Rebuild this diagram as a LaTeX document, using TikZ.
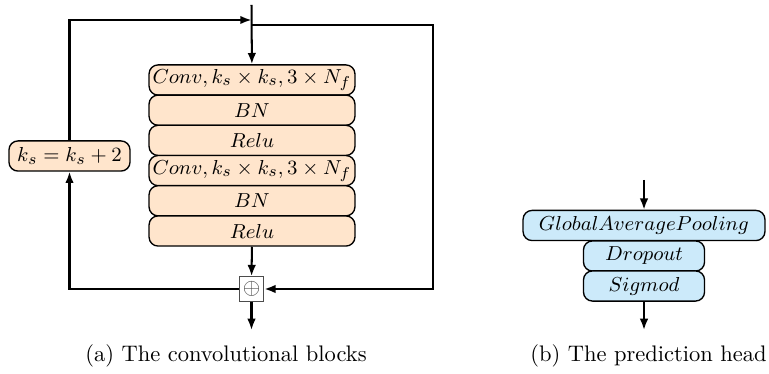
\documentclass[tikz,border=0pt]{standalone}
\usepackage{xcolor}
\usepackage{amsmath}
\usepackage{amssymb}
\usepackage{tikz}
\usetikzlibrary{calc}
\usetikzlibrary{arrows}
\usetikzlibrary{arrows.meta}
\usetikzlibrary{shapes}
\usetikzlibrary{positioning}

\definecolor{blockorange}{RGB}{255,229,204}
\definecolor{headblue}{RGB}{204,234,250}

\begin{document}
\begin{tikzpicture}[x=0.4444pt, y=-0.4444pt,
  layerbox/.style={rectangle, rounded corners=4pt, draw=black, semithick, fill=blockorange, inner xsep=0pt, inner ysep=0.5pt, minimum height=13.4pt, font=\fontsize{9.4}{11}\selectfont},
  headbox/.style={rectangle, rounded corners=4pt, draw=black, semithick, fill=headblue, inner xsep=0pt, inner ysep=0.5pt, minimum height=13.4pt, font=\fontsize{9.4}{11}\selectfont},
  flow/.style={-{Latex[length=5pt,width=3.8pt]}, line width=0.9pt, draw=black}]
\useasboundingbox (0,0) rectangle (769,374);
% convolutional blocks
\node [layerbox, minimum width=91.5pt] (C1) at (252,80) {$Conv, k_s \times k_s, 3 \times N_f$};
\node [layerbox, minimum width=91.5pt] (B1) at (252,110.2) {$BN$};
\node [layerbox, minimum width=91.5pt] (R1) at (252,140.4) {$Relu$};
\node [layerbox, minimum width=91.5pt] (C2) at (252,170.6) {$Conv, k_s \times k_s, 3 \times N_f$};
\node [layerbox, minimum width=91.5pt] (B2) at (252,200.8) {$BN$};
\node [layerbox, minimum width=91.5pt] (R2) at (252,231) {$Relu$};
\node [layerbox, minimum width=53.8pt] (KS) at (69.5,156) {$k_s = k_s + 2$};
\node [rectangle, draw=black!70, fill=white, minimum size=11pt, inner sep=0pt, text=black!70] (ADD) at (251.5,289) {$\oplus$};
\coordinate (IN) at (251.5,5);
\coordinate (JL) at (251.5,20);
\coordinate (JR) at (251.5,25);
\coordinate (RC) at (433,289);
\coordinate (OUT) at (251.5,330);
\draw [flow] (IN) to (C1);
\draw [flow] (KS.north) |- (JL);
\draw [flow] (JR) -| (RC) -- (ADD.east);
\draw [flow] (R2) to (ADD);
\draw [flow] (ADD.west) -| (KS.south);
\draw [flow] (ADD) to (OUT);
% prediction head
\node [headbox, minimum width=107.5pt] (GAP) at (644,225.5) {$GlobalAveragePooling$};
\node [headbox, minimum width=53.8pt] (DROP) at (644,256) {$Dropout$};
\node [headbox, minimum width=53.8pt] (SIG) at (644,286) {$Sigmod$};
\coordinate (HIN) at (644,180);
\coordinate (HOUT) at (644,330);
\draw [flow] (HIN) to (GAP);
\draw [flow] (SIG) to (HOUT);
% captions
\node [anchor=base] (CAPA) at (226,361) {(a) The convolutional blocks};
\node [anchor=base] (CAPB) at (648.5,361) {(b) The prediction head};
\end{tikzpicture}
\end{document}
